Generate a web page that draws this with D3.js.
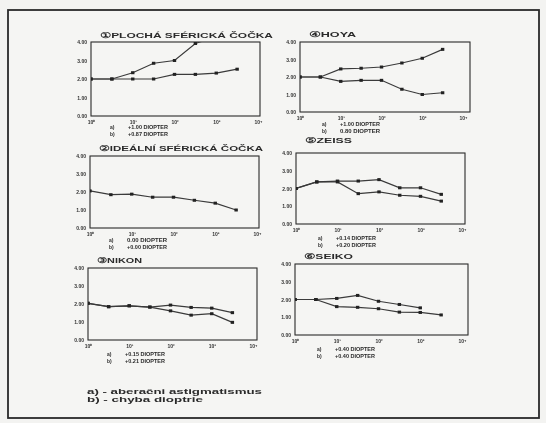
<!DOCTYPE html>
<html><head><meta charset="utf-8">
<script src="https://cdn.jsdelivr.net/npm/d3@7"></script>
<style>html,body{margin:0;padding:0;background:#f3f3f1;}svg{display:block;}</style>
</head><body>
<svg id="c" width="546" height="423"></svg>
<script>
// ---- data ----
const xTickLabels = ["10\u2070","10\u00b9","10\u00b2","10\u00b3","10\u2074"];
const yTickLabels = ["0.00","1.00","2.00","3.00","4.00"];
const steps = [0,0.5,1,1.5,2,2.5,3,3.5];

const titles = ["\u2460PLOCH\u00c1 SF\u00c9RICK\u00c1 \u010cO\u010cKA","\u2463HOYA","\u2461IDE\u00c1LN\u00cd SF\u00c9RICK\u00c1 \u010cO\u010cKA","\u2464ZEISS","\u2462NIKON","\u2465SEIKO"];
const legendA = ["+1.00 DIOPTER","+1.00 DIOPTER","0.00 DIOPTER","+0.14 DIOPTER","+0.15 DIOPTER","+0.40 DIOPTER"];
const legendB = ["+0.87 DIOPTER","0.80 DIOPTER","+0.00 DIOPTER","+0.20 DIOPTER","+0.21 DIOPTER","+0.40 DIOPTER"];

const plochaA = [2.00,2.00,2.34,2.85,3.00,3.92,4.30];
const plochaB = [2.00,2.00,2.00,2.00,2.25,2.25,2.32,2.53];
const hoyaA   = [2.00,2.00,2.46,2.50,2.57,2.80,3.07,3.58];
const hoyaB   = [2.00,2.00,1.75,1.81,1.81,1.30,1.00,1.10];
const idealA  = [2.06,1.85,1.88,1.71,1.71,1.54,1.38,1.00];
const zeissA  = [2.00,2.37,2.42,2.42,2.50,2.04,2.04,1.67];
const zeissB  = [2.00,2.37,2.37,1.71,1.81,1.62,1.56,1.29];
const nikonA  = [2.04,1.85,1.90,1.83,1.94,1.81,1.77,1.52];
const nikonB  = [2.04,1.85,1.90,1.83,1.62,1.38,1.46,0.98];
const seikoA  = [2.00,2.00,2.06,2.23,1.90,1.72,1.53];
const seikoB  = [2.00,2.00,1.60,1.56,1.48,1.29,1.27,1.13];

const notes = ["a) - aberačni astigmatismus","b) - chyba dioptrie"];

// ---- layout (positions only) ----
const layout = [
  {l:91, te:258, r:260, t:42, b:116, ty:38, tw:173, ly:129, series:[plochaA,plochaB]},
  {l:300,te:463, r:470, t:42, b:112, ty:37, tw:47,  ly:126, series:[hoyaA,hoyaB]},
  {l:90, te:257, r:259, t:156,b:228, ty:151,tw:164, ly:242, series:[idealA]},
  {l:296,te:462, r:465, t:153,b:224, ty:143,tw:47,  ly:240, series:[zeissA,zeissB]},
  {l:88, te:253, r:257, t:268,b:340, ty:263,tw:45,  ly:356, series:[nikonA,nikonB]},
  {l:295,te:462, r:468, t:264,b:335, ty:259,tw:49,  ly:351, series:[seikoA,seikoB]}
];

const svg = d3.select("#c");
const defs = svg.append("defs");
defs.append("filter").attr("id","blur").append("feGaussianBlur").attr("stdDeviation",0.35);

// paper frame
svg.append("rect").attr("x",8).attr("y",10).attr("width",531).attr("height",408)
  .attr("fill","#f5f5f3").attr("stroke","#2a2a2a").attr("stroke-width",1.8);

const g = svg.append("g").attr("filter","url(#blur)");
const ink = "#2b2b2b";

layout.forEach((p,i)=>{
  const x = d3.scaleLinear().domain([0,4]).range([p.l,p.te]);
  const y = d3.scaleLinear().domain([0,4]).range([p.b,p.t]);
  const pg = g.append("g");
  const cid = "clip"+i;
  defs.append("clipPath").attr("id",cid).append("rect")
    .attr("x",p.l).attr("y",p.t).attr("width",p.r-p.l).attr("height",p.b-p.t);
  // box
  pg.append("rect").attr("x",p.l).attr("y",p.t).attr("width",p.r-p.l).attr("height",p.b-p.t)
    .attr("fill","none").attr("stroke",ink).attr("stroke-width",1.1);
  // title
  pg.append("text").attr("x",p.l+9).attr("y",p.ty).text(titles[i])
    .attr("font-family","Liberation Sans, Arial, sans-serif").attr("font-weight","bold")
    .attr("font-size",7.5).attr("fill",ink)
    .attr("textLength",p.tw).attr("lengthAdjust","spacingAndGlyphs");
  // y axis labels
  const ya = d3.axisLeft(y).tickValues([0,1,2,3,4]).tickSize(0).tickPadding(4)
    .tickFormat((d,k)=>yTickLabels[k]);
  const yg = pg.append("g").attr("transform",`translate(${p.l},0)`).call(ya);
  yg.select(".domain").remove();
  yg.selectAll("text").attr("font-size",5).attr("font-weight","bold")
    .attr("font-family","Liberation Sans, Arial, sans-serif").attr("fill","#333");
  // x axis labels
  const xa = d3.axisBottom(x).tickValues([0,1,2,3,4]).tickSize(0).tickPadding(4)
    .tickFormat((d,k)=>xTickLabels[k]);
  const xg = pg.append("g").attr("transform",`translate(0,${p.b})`).call(xa);
  xg.select(".domain").remove();
  xg.selectAll("text").attr("font-size",5).attr("font-weight","bold")
    .attr("font-family","Liberation Sans, Arial, sans-serif").attr("fill","#333");
  // series
  const line = d3.line().x((d,k)=>x(steps[k])).y(d=>y(d));
  const sg = pg.append("g").attr("clip-path",`url(#${cid})`);
  p.series.forEach(s=>{
    sg.append("path").datum(s).attr("d",line).attr("fill","none")
      .attr("stroke","#3a3a3a").attr("stroke-width",1.2);
    sg.selectAll(null).data(s).enter().append("rect")
      .attr("x",(d,k)=>x(steps[k])-1.7).attr("y",d=>y(d)-1.5)
      .attr("width",3.4).attr("height",3).attr("fill","#222");
  });
  // legend
  const lx = p.l+ (i%2===0?19:22);
  [["a)",legendA[i]],["b)",legendB[i]]].forEach((row,k)=>{
    const yy = p.ly + k*6.5;
    pg.append("text").attr("x",lx).attr("y",yy).text(row[0])
      .attr("font-size",5).attr("font-weight","bold").attr("fill",ink)
      .attr("font-family","Liberation Sans, Arial, sans-serif");
    pg.append("text").attr("x",lx+18).attr("y",yy).text(row[1])
      .attr("font-size",5).attr("font-weight","bold").attr("fill",ink)
      .attr("font-family","Liberation Sans, Arial, sans-serif")
      .attr("textLength",40).attr("lengthAdjust","spacingAndGlyphs");
  });
});

// notes
notes.forEach((n,k)=>{
  g.append("text").attr("x",87).attr("y",394+k*8).text(n)
    .attr("font-family","Liberation Sans, Arial, sans-serif").attr("font-weight","bold")
    .attr("font-size",7.5).attr("fill",ink)
    .attr("textLength",k===0?175:116).attr("lengthAdjust","spacingAndGlyphs");
});
</script>
</body></html>
